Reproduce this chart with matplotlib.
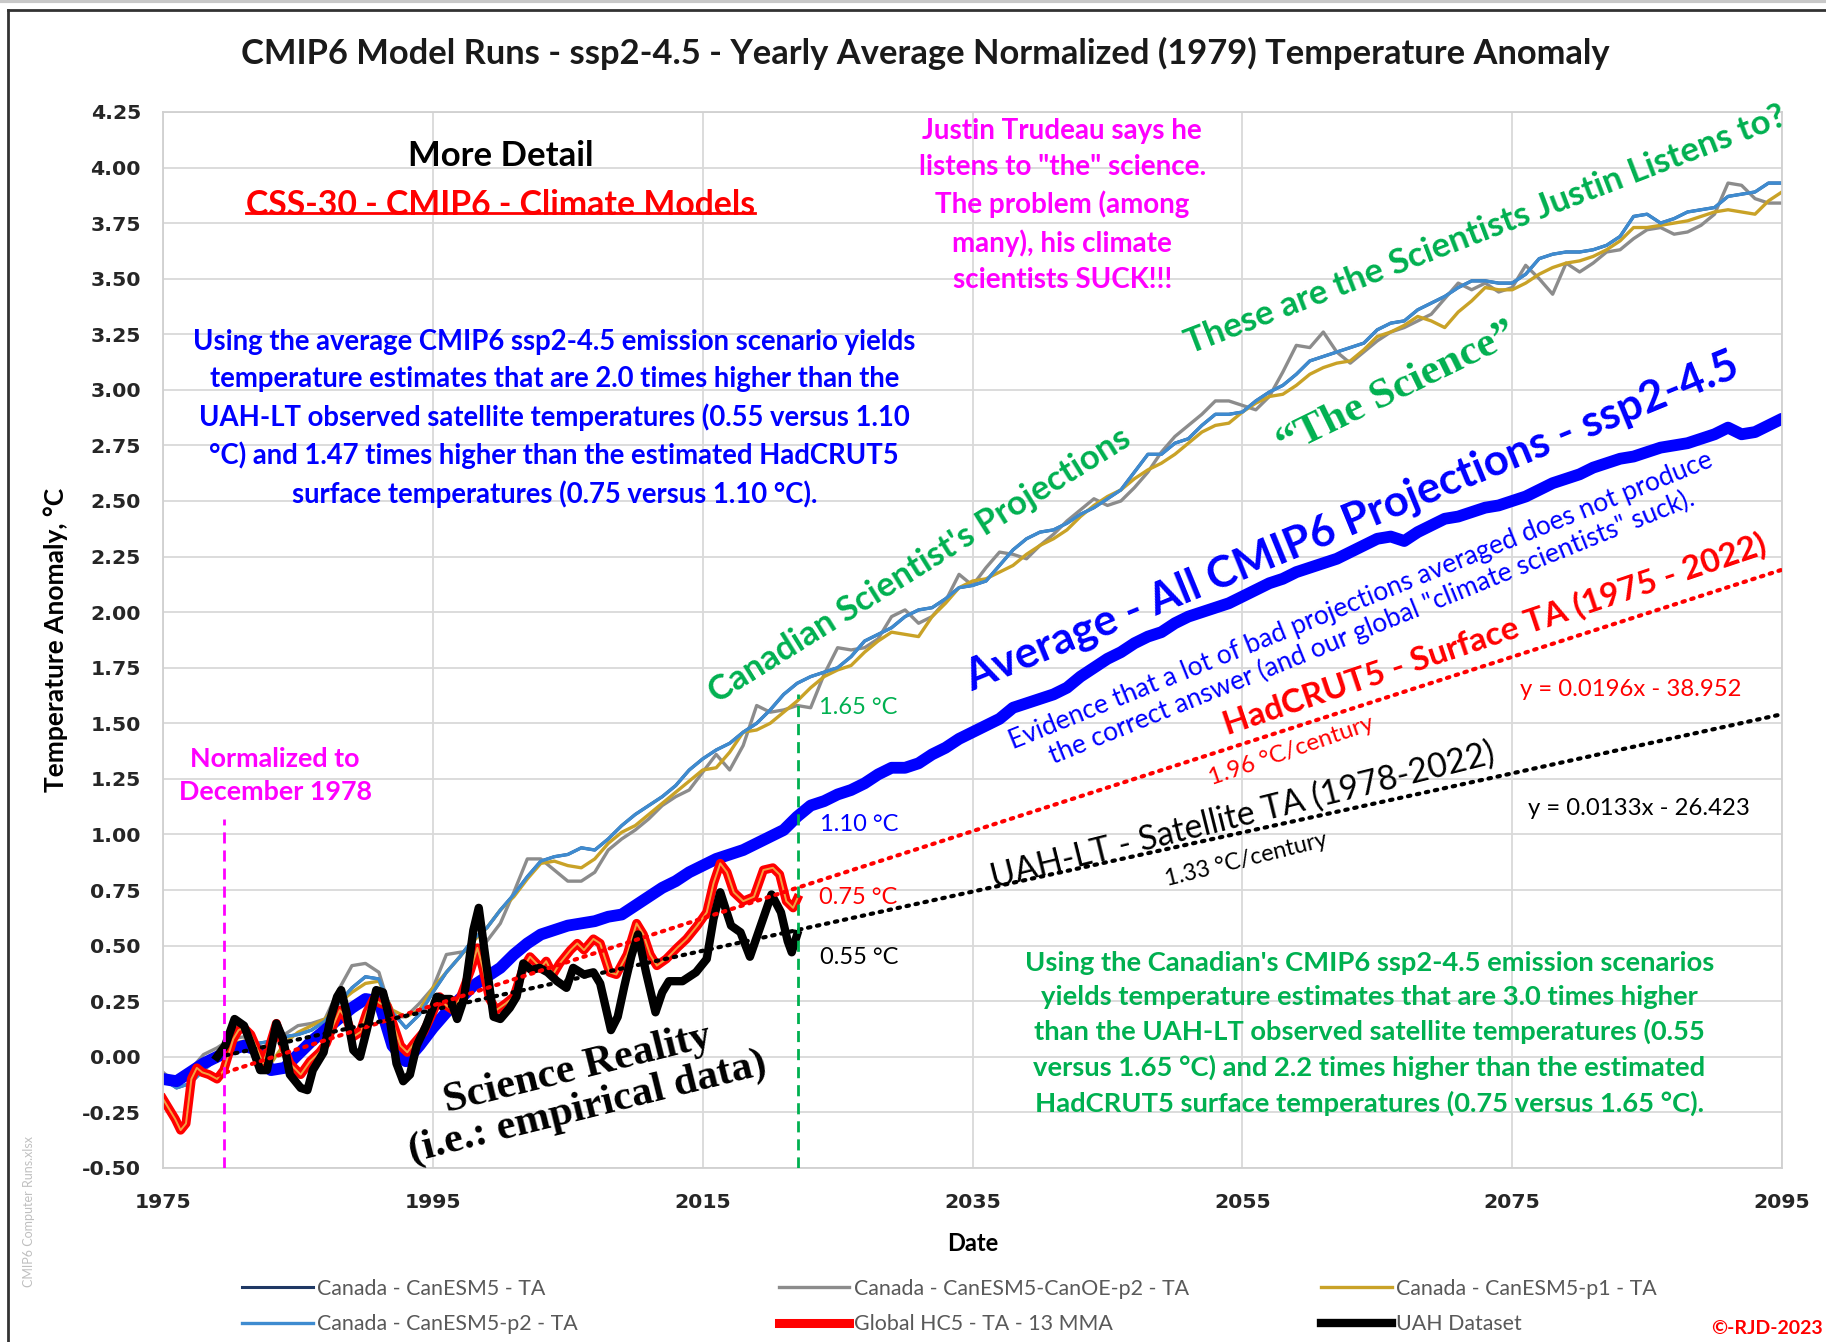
import numpy as np
import matplotlib
matplotlib.use("Agg")
import matplotlib.pyplot as plt
from matplotlib.lines import Line2D

plt.rcParams['font.family'] = ['Lato', 'DejaVu Sans']

# yearly model runs, 1975-2095
years = np.arange(1975, 2096)

canesm5_p2 = [
    -0.10, -0.14, -0.12, -0.06, -0.01, 0.03, 0.05, 0.06, 0.07, 0.09,
    0.10, 0.12, 0.16, 0.24, 0.31, 0.36, 0.35, 0.20, 0.13, 0.19,
    0.29, 0.38, 0.45, 0.53, 0.58, 0.66, 0.73, 0.81, 0.88, 0.90,
    0.91, 0.94, 0.93, 0.98, 1.04, 1.09, 1.13, 1.17, 1.22, 1.29,
    1.34, 1.38, 1.41, 1.46, 1.50, 1.56, 1.63, 1.68, 1.71, 1.73,
    1.75, 1.80, 1.87, 1.90, 1.93, 1.98, 2.01, 2.02, 2.06, 2.11,
    2.12, 2.14, 2.21, 2.28, 2.33, 2.36, 2.37, 2.40, 2.44, 2.47,
    2.51, 2.55, 2.63, 2.71, 2.71, 2.76, 2.78, 2.84, 2.89, 2.89,
    2.90, 2.95, 2.99, 3.02, 3.07, 3.13, 3.15, 3.17, 3.19, 3.21,
    3.27, 3.30, 3.31, 3.36, 3.39, 3.42, 3.46, 3.49, 3.49, 3.48,
    3.48, 3.52, 3.59, 3.61, 3.62, 3.62, 3.63, 3.65, 3.69, 3.78,
    3.79, 3.75, 3.77, 3.80, 3.81, 3.82, 3.87, 3.88, 3.89, 3.93,
    3.93]

canoe_p2 = [
    -0.07, -0.12, -0.06, 0.01, 0.04, 0.08, 0.09, 0.02, 0.07, 0.10,
    0.14, 0.15, 0.17, 0.30, 0.41, 0.42, 0.38, 0.18, 0.18, 0.24,
    0.31, 0.46, 0.47, 0.48, 0.52, 0.60, 0.74, 0.89, 0.89, 0.84,
    0.79, 0.79, 0.83, 0.93, 0.98, 1.02, 1.07, 1.13, 1.17, 1.20,
    1.28, 1.36, 1.29, 1.40, 1.58, 1.55, 1.56, 1.58, 1.57, 1.72,
    1.84, 1.83, 1.84, 1.88, 1.98, 2.01, 1.95, 1.98, 2.05, 2.17,
    2.12, 2.20, 2.27, 2.26, 2.24, 2.30, 2.35, 2.41, 2.46, 2.51,
    2.48, 2.50, 2.56, 2.63, 2.72, 2.79, 2.84, 2.89, 2.95, 2.95,
    2.93, 2.91, 2.97, 3.08, 3.20, 3.19, 3.26, 3.17, 3.12, 3.17,
    3.22, 3.26, 3.28, 3.31, 3.34, 3.41, 3.48, 3.45, 3.48, 3.44,
    3.46, 3.56, 3.50, 3.43, 3.57, 3.53, 3.57, 3.62, 3.63, 3.68,
    3.72, 3.73, 3.70, 3.71, 3.74, 3.79, 3.93, 3.92, 3.86, 3.84,
    3.84]

canesm5_p1 = [
    -0.10, -0.13, -0.08, -0.04, 0.00, 0.06, 0.07, 0.02, -0.03, 0.06,
    0.11, 0.14, 0.17, 0.24, 0.29, 0.33, 0.34, 0.21, 0.18, 0.21,
    0.31, 0.38, 0.45, 0.52, 0.58, 0.66, 0.72, 0.80, 0.87, 0.88,
    0.86, 0.85, 0.89, 0.96, 1.01, 1.04, 1.09, 1.14, 1.19, 1.24,
    1.29, 1.30, 1.37, 1.46, 1.47, 1.50, 1.55, 1.60, 1.66, 1.71,
    1.74, 1.76, 1.82, 1.87, 1.91, 1.90, 1.89, 1.98, 2.04, 2.11,
    2.14, 2.15, 2.18, 2.21, 2.26, 2.30, 2.33, 2.37, 2.43, 2.48,
    2.52, 2.55, 2.60, 2.64, 2.67, 2.71, 2.76, 2.81, 2.84, 2.85,
    2.90, 2.94, 2.97, 2.98, 3.02, 3.07, 3.10, 3.12, 3.13, 3.18,
    3.24, 3.26, 3.29, 3.33, 3.31, 3.28, 3.35, 3.40, 3.46, 3.45,
    3.45, 3.48, 3.52, 3.55, 3.57, 3.58, 3.60, 3.63, 3.67, 3.73,
    3.73, 3.74, 3.75, 3.76, 3.78, 3.80, 3.81, 3.80, 3.79, 3.85,
    3.89]

# the plain CanESM5 run sits right under the p2 run in the source sheet
canesm5 = list(canesm5_p2)

cmip6_avg = [
    -0.10, -0.11, -0.07, -0.03, 0.00, 0.03, 0.05, 0.03, -0.06, -0.05,
    0.01, 0.07, 0.12, 0.17, 0.22, 0.26, 0.25, 0.05, -0.02, 0.05,
    0.13, 0.20, 0.26, 0.32, 0.36, 0.40, 0.46, 0.51, 0.55, 0.57,
    0.59, 0.60, 0.61, 0.63, 0.64, 0.68, 0.72, 0.76, 0.79, 0.83,
    0.86, 0.89, 0.91, 0.93, 0.96, 0.99, 1.02, 1.08, 1.13, 1.15,
    1.18, 1.20, 1.23, 1.27, 1.30, 1.30, 1.32, 1.36, 1.39, 1.43,
    1.46, 1.49, 1.52, 1.57, 1.59, 1.61, 1.63, 1.66, 1.71, 1.75,
    1.79, 1.82, 1.86, 1.89, 1.91, 1.95, 1.98, 2.00, 2.02, 2.04,
    2.07, 2.10, 2.13, 2.15, 2.18, 2.20, 2.22, 2.24, 2.27, 2.30,
    2.33, 2.34, 2.32, 2.36, 2.39, 2.42, 2.43, 2.45, 2.47, 2.48,
    2.50, 2.52, 2.55, 2.58, 2.60, 2.62, 2.65, 2.67, 2.69, 2.70,
    2.72, 2.74, 2.75, 2.76, 2.78, 2.80, 2.83, 2.80, 2.81, 2.84,
    2.87]

# HadCRUT5, 13 month moving average
hc5_years = [1975.0, 1975.5, 1975.9, 1976.3, 1976.7, 1977.1, 1977.5, 1977.9, 1978.4, 1979.0,
             1979.5, 1980.2, 1980.6, 1981.0, 1981.5, 1982.0, 1982.4, 1982.9, 1983.4, 1983.9,
             1984.4, 1985.2, 1985.9, 1986.6, 1987.1, 1987.6, 1988.1, 1988.6, 1989.1, 1989.6,
             1990.1, 1990.6, 1991.1, 1991.6, 1992.1, 1992.6, 1993.1, 1993.6, 1994.3, 1995.0,
             1995.5, 1996.0, 1996.5, 1997.0, 1997.8, 1998.3, 1998.7, 1999.2, 1999.7, 2000.4,
             2001.0, 2001.7, 2002.2, 2003.0, 2003.4, 2003.9, 2004.4, 2005.2, 2005.7, 2006.2,
             2006.9, 2007.4, 2008.1, 2008.6, 2009.4, 2010.1, 2010.6, 2011.1, 2011.6, 2012.3,
             2013.1, 2013.8, 2014.6, 2015.3, 2015.8, 2016.3, 2016.8, 2017.3, 2018.0, 2018.8,
             2019.5, 2020.2, 2020.7, 2021.2, 2021.7, 2022.0]
hc5_vals = [-0.19, -0.24, -0.28, -0.33, -0.30, -0.10, -0.05, -0.07, -0.08, -0.10,
            -0.06, 0.08, 0.12, 0.13, 0.10, 0.03, -0.03, 0.05, 0.15, 0.05,
            -0.03, -0.08, -0.02, 0.02, 0.06, 0.14, 0.21, 0.17, 0.09, 0.11,
            0.20, 0.26, 0.24, 0.23, 0.14, 0.05, 0.02, 0.06, 0.11, 0.20,
            0.27, 0.23, 0.21, 0.26, 0.39, 0.49, 0.40, 0.26, 0.21, 0.24,
            0.27, 0.40, 0.45, 0.40, 0.43, 0.37, 0.42, 0.48, 0.51, 0.48,
            0.53, 0.51, 0.38, 0.37, 0.46, 0.60, 0.55, 0.46, 0.41, 0.44,
            0.49, 0.53, 0.59, 0.65, 0.78, 0.87, 0.83, 0.74, 0.70, 0.72,
            0.84, 0.85, 0.82, 0.70, 0.67, 0.71]

# UAH lower troposphere
uah_years = [1979.0, 1979.6, 1980.3, 1981.0, 1981.5, 1982.2, 1982.7, 1983.4, 1983.9, 1984.4,
             1985.2, 1985.7, 1986.1, 1986.9, 1987.4, 1987.9, 1988.2, 1988.6, 1989.1, 1989.6,
             1990.1, 1990.8, 1991.3, 1991.8, 1992.3, 1992.8, 1993.3, 1993.8, 1994.5, 1995.3,
             1995.8, 1996.3, 1996.8, 1997.3, 1998.0, 1998.4, 1999.0, 1999.5, 2000.0, 2000.7,
             2001.2, 2001.7, 2002.3, 2002.9, 2003.5, 2004.2, 2004.9, 2005.4, 2006.2, 2006.9,
             2007.4, 2008.2, 2008.7, 2009.2, 2009.7, 2010.2, 2010.8, 2011.5, 2012.0, 2012.5,
             2013.5, 2014.5, 2015.3, 2015.8, 2016.3, 2017.1, 2017.8, 2018.5, 2019.3, 2020.1,
             2020.8, 2021.3, 2021.6, 2022.0]
uah_vals = [0.00, 0.05, 0.17, 0.14, 0.06, -0.06, -0.06, 0.15, 0.08, -0.08,
            -0.14, -0.15, -0.06, 0.02, 0.17, 0.27, 0.30, 0.20, 0.03, 0.00,
            0.12, 0.30, 0.29, 0.17, -0.03, -0.11, -0.08, 0.05, 0.14, 0.27,
            0.26, 0.26, 0.17, 0.26, 0.57, 0.67, 0.40, 0.18, 0.17, 0.22,
            0.27, 0.42, 0.39, 0.40, 0.38, 0.34, 0.31, 0.40, 0.37, 0.38,
            0.33, 0.12, 0.18, 0.32, 0.45, 0.55, 0.38, 0.20, 0.29, 0.34,
            0.34, 0.38, 0.44, 0.62, 0.74, 0.59, 0.56, 0.45, 0.59, 0.73,
            0.65, 0.52, 0.47, 0.55]

# linear trends: slope per year and trend value at 2022
hc5_slope, hc5_2022 = 0.0196, 0.76
uah_slope, uah_2022 = 0.0133, 0.57
trend_years = np.array([1979.0, 2095.0])

norm_year, norm_top = 1979.5, 1.07
end_year, end_top = 2022.1, 1.63

x_ticks = [1975, 1995, 2015, 2035, 2055, 2075, 2095]
y_ticks = np.arange(-0.5, 4.26, 0.25)

GREEN = '#00B050'
BLUE = '#0000FF'
MAGENTA = '#FF00FF'
RED = '#FF0000'

fig = plt.figure(figsize=(18.26, 13.42), dpi=100)
ax = fig.add_axes([0.0893, 0.1297, 0.8866, 0.7869])

ax.plot(years, canesm5, color='#1F3864', lw=2.2, label='Canada - CanESM5 - TA')
ax.plot(years, canoe_p2, color='#8C8C8C', lw=2.4, label='Canada - CanESM5-CanOE-p2 - TA')
ax.plot(years, canesm5_p1, color='#C9A227', lw=2.4, label='Canada - CanESM5-p1 - TA')
ax.plot(years, canesm5_p2, color='#3E8BD0', lw=2.4, label='Canada - CanESM5-p2 - TA')
ax.plot(years, cmip6_avg, color=BLUE, lw=8.5, solid_capstyle='round', solid_joinstyle='round')
ax.plot(hc5_years, hc5_vals, color=RED, lw=6.5, solid_joinstyle='round',
        label='Global HC5 - TA - 13 MMA')
ax.plot(hc5_years, hc5_vals, color='#F4A040', lw=1.4)
ax.plot(uah_years, uah_vals, color='black', lw=6, solid_joinstyle='round', label='UAH Dataset')

ax.plot(trend_years, hc5_slope * (trend_years - 2022) + hc5_2022, color=RED,
        lw=3, ls=(0, (0.6, 1.6)), dash_capstyle='round', zorder=5)
ax.plot(trend_years, uah_slope * (trend_years - 2022) + uah_2022, color='black',
        lw=3, ls=(0, (0.6, 1.6)), dash_capstyle='round', zorder=5)

ax.vlines(norm_year, -0.5, norm_top, color=MAGENTA, lw=2, ls=(0, (4, 2.5)), zorder=6)
ax.vlines(end_year, -0.5, end_top, color=GREEN, lw=2, ls=(0, (4, 2.5)), zorder=6)

ax.set_xlim(1975, 2095)
ax.set_ylim(-0.5, 4.25)
ax.set_xticks(x_ticks)
ax.set_yticks(y_ticks)
ax.yaxis.set_major_formatter(matplotlib.ticker.FormatStrFormatter('%.2f'))
ax.grid(True, color='#D9D9D9', lw=1.3)
ax.set_axisbelow(True)
for s in ax.spines.values():
    s.set_color('#D0D0D0')
    s.set_linewidth(1.3)
ax.tick_params(axis='both', length=0, labelsize=14.7, labelcolor='#262626')
ax.tick_params(axis='y', pad=16)
ax.tick_params(axis='x', pad=18)
for lbl in ax.get_xticklabels() + ax.get_yticklabels():
    lbl.set_fontfamily('DejaVu Sans')
    lbl.set_fontweight('bold')

ax.set_xlabel('Date', fontsize=17, fontweight='bold', va='center')
ax.xaxis.set_label_coords(0.5, -0.072)
ax.set_ylabel('Temperature Anomaly, °C', fontsize=19, fontweight='bold', va='center')
ax.yaxis.set_label_coords(-0.066, 0.5)

fig.text(0.507, 0.96, 'CMIP6 Model Runs - ssp2-4.5 - Yearly Average Normalized (1979) Temperature Anomaly',
         ha='center', va='center', fontsize=24.8, fontweight='bold', color='#1a1a1a')

# annotations
ax.text(2000.0, 4.05, 'More Detail', ha='center', va='center', fontsize=25, fontweight='bold')
css = ax.text(2000.0, 3.83, 'CSS-30 - CMIP6 - Climate Models', ha='center', va='center',
              fontsize=24.3, fontweight='bold', color=RED)

ax.text(2041.65, 3.83, 'Justin Trudeau says he\nlistens to "the" science.\nThe problem (among\n'
        'many), his climate\nscientists SUCK!!!', ha='center', va='center', multialignment='center',
        fontsize=20, fontweight='bold', color=MAGENTA, linespacing=1.48)

ax.text(2004.0, 2.87, 'Using the average CMIP6 ssp2-4.5 emission scenario yields\n'
        'temperature estimates that are 2.0 times higher than the\n'
        'UAH-LT observed satellite temperatures (0.55 versus 1.10\n'
        '°C) and 1.47 times higher than the estimated HadCRUT5\n'
        'surface temperatures (0.75 versus 1.10 °C).', ha='center', va='center',
        multialignment='center', fontsize=19.8, fontweight='bold', color=BLUE, linespacing=1.5)

ax.text(1983.3, 1.265, 'Normalized to\nDecember 1978', ha='center', va='center',
        multialignment='center', fontsize=19.4, fontweight='bold', color=MAGENTA, linespacing=1.45)

ax.text(2023.6, 1.57, '1.65 °C', ha='left', va='center', fontsize=17, color=GREEN)
ax.text(2023.7, 1.045, '1.10 °C', ha='left', va='center', fontsize=17, color=BLUE)
ax.text(2023.6, 0.715, '0.75 °C', ha='left', va='center', fontsize=17, color=RED)
ax.text(2023.7, 0.448, '0.55 °C', ha='left', va='center', fontsize=17, color='black')

rot = dict(ha='center', va='center', rotation_mode='anchor')
ax.text(2031.1, 2.21, "Canadian Scientist's Projections", rotation=32, fontsize=25,
        fontweight='bold', color=GREEN, **rot)
ax.text(2073.0, 3.72, 'These are the Scientists Justin Listens to?', rotation=21, fontsize=25,
        fontweight='bold', color=GREEN, **rot)
ax.text(2066.5, 3.0, '\u201cThe Science\u201d', rotation=26, fontsize=31, fontweight='bold',
        family='Liberation Serif', color=GREEN, **rot)
ax.text(2063.1, 2.41, 'Average - All CMIP6 Projections - ssp2-4.5', rotation=22.3, fontsize=31.5,
        fontweight='bold', color=BLUE, **rot)
ax.text(2064.2, 1.99, 'Evidence that a lot of bad projections averaged does not produce\n'
        'the correct answer (and our global "climate scientists" suck).', rotation=22,
        fontsize=19, color=BLUE, multialignment='center', linespacing=1.15, **rot)
ax.text(2073.7, 1.90, 'HadCRUT5 - Surface TA (1975 - 2022)', rotation=18.6, fontsize=24,
        fontweight='bold', color=RED, **rot)
ax.text(2058.6, 1.375, '1.96 °C/century', rotation=19, fontsize=17.5, color=RED, **rot)
ax.text(2083.8, 1.65, 'y = 0.0196x - 38.952', ha='center', va='center', fontsize=17.2, color=RED)
ax.text(2055.0, 1.087, 'UAH-LT - Satellite TA (1978-2022)', rotation=14, fontsize=24.2,
        color='black', **rot)
ax.text(2055.3, 0.888, '1.33 °C/century', rotation=14, fontsize=16.8, color='black', **rot)
ax.text(2084.4, 1.118, 'y = 0.0133x - 26.423', ha='center', va='center', fontsize=17.2, color='black')
ax.text(2006.1, -0.145, 'Science Reality\n(i.e.: empirical data)', rotation=14, fontsize=30.5,
        fontweight='bold', family='Liberation Serif', multialignment='center', linespacing=1.05, **rot)

ax.text(2064.4, 0.105, "Using the Canadian's CMIP6 ssp2-4.5 emission scenarios\n"
        'yields temperature estimates that are 3.0 times higher\n'
        'than the UAH-LT observed satellite temperatures (0.55\n'
        'versus 1.65 °C) and 2.2 times higher than the estimated\n'
        'HadCRUT5 surface temperatures (0.75 versus 1.65 °C).', ha='center', va='center',
        multialignment='center', fontsize=19.7, fontweight='bold', color=GREEN, linespacing=1.5)

# legend, three columns of two
handles, labels = ax.get_legend_handles_labels()
lookup = dict(zip(labels, handles))
columns = [['Canada - CanESM5 - TA', 'Canada - CanESM5-p2 - TA'],
           ['Canada - CanESM5-CanOE-p2 - TA', 'Global HC5 - TA - 13 MMA'],
           ['Canada - CanESM5-p1 - TA', 'UAH Dataset']]
col_x = [0.1325, 0.4265, 0.7235]
for cx, col in zip(col_x, columns):
    leg = fig.legend([lookup[c] for c in col], col, loc='center left', bbox_to_anchor=(cx, 0.0265),
                     frameon=False, fontsize=15.4, handlelength=3.3, handletextpad=0.2,
                     labelspacing=0.72, borderpad=0, borderaxespad=0)
    for t in leg.get_texts():
        t.set_color('#595959')

fig.text(0.998, 0.0104, '©-RJD-2023', ha='right', va='center', fontsize=14,
         fontweight='bold', color=RED)
fig.text(0.016, 0.097, 'CMIP6 Computer Runs.xlsx', rotation=90, ha='center', va='center',
         fontsize=9, color='#BFBFBF')

# frame around the sheet
fig.add_artist(Line2D([0.0045, 0.0045], [0, 0.9925], color='#333333', lw=2, transform=fig.transFigure))
fig.add_artist(Line2D([0.0045, 1], [0.9925, 0.9925], color='#333333', lw=2, transform=fig.transFigure))
fig.add_artist(Line2D([0, 1], [0.9995, 0.9995], color='#C8C8C8', lw=3, transform=fig.transFigure))

# underline the link-style heading
fig.canvas.draw()
bb = css.get_window_extent()
(x0, y0), (x1, y1) = fig.transFigure.inverted().transform([[bb.x0, bb.y0], [bb.x1, bb.y1]])
uy = y0 + 0.25 * (y1 - y0)
fig.add_artist(Line2D([x0, x1], [uy, uy], color=RED, lw=2, transform=fig.transFigure))

fig.savefig('out.png', dpi=100)
